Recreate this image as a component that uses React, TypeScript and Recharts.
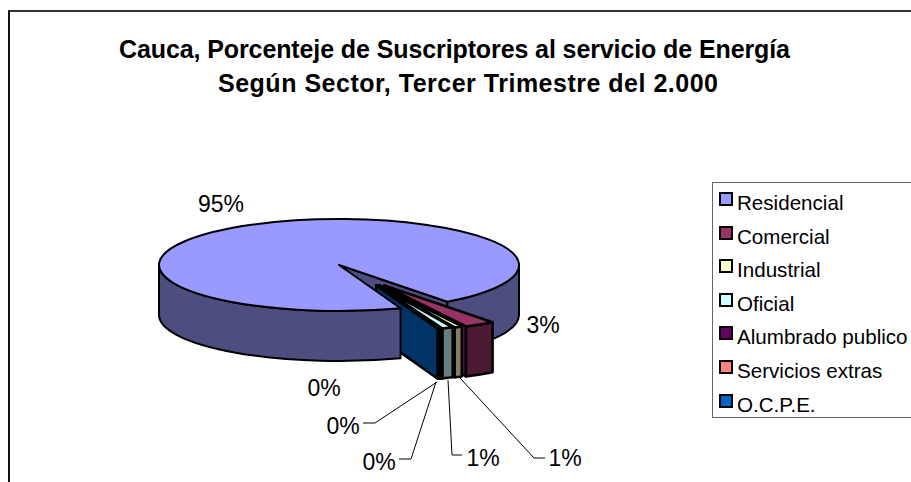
import { PieChart, Pie, Legend } from "recharts";

const sectors = ["Residencial", "Comercial", "Industrial", "Oficial", "Alumbrado publico", "Servicios extras", "O.C.P.E."];
const shares = [95.28, 2.78, 0.69, 0.97, 0.08, 0.06, 0.14];
const topColors = ["#9999ff", "#993366", "#ffffcc", "#ccffff", "#660066", "#ff8080", "#0066cc"];
const sideColors = ["#4d4d80", "#4d1a33", "#808066", "#668080", "#330033", "#804040", "#003366"];

// label anchor + leader polyline for each sector, in pixels
const labelLayout = [
  { x: 221, y: 212, line: null },
  { x: 543, y: 333, line: null },
  { x: 565, y: 466, line: "545,458 534,458 460,378" },
  { x: 483, y: 466, line: "462,455 452,455 448,380" },
  { x: 379, y: 470, line: "399,459 411,459 436,382" },
  { x: 343, y: 434, line: "363,423 375,423 437,382" },
  { x: 324, y: 396, line: null },
];

const data = sectors.map((name, i) => ({ name, value: shares[i], fill: topColors[i] }));

const CX = 339;
const CY = 265;
const SQUASH = 46 / 180;
const DEPTH = 50;
const EXPLODE_Y = 20.5;

const rad = (d: number) => (d * Math.PI) / 180;
const explodeX = (mid: number) => 22 + 44 * Math.cos(rad(mid));

function pt(cx: number, cy: number, r: number, t: number) {
  return [cx + r * Math.cos(rad(t)), cy + r * SQUASH * Math.sin(rad(t))];
}

function topPath(cx: number, cy: number, r: number, a: number, b: number) {
  const [x0, y0] = pt(cx, cy, r, a);
  const [x1, y1] = pt(cx, cy, r, b);
  return `M${cx},${cy}L${x0},${y0}A${r},${r * SQUASH} 0 ${b - a > 180 ? 1 : 0} 1 ${x1},${y1}Z`;
}

function sidePath(cx: number, cy: number, r: number, a: number, b: number) {
  const [x0, y0] = pt(cx, cy, r, a);
  const [x1, y1] = pt(cx, cy, r, b);
  const ry = r * SQUASH;
  return `M${x0},${y0}A${r},${ry} 0 0 1 ${x1},${y1}L${x1},${y1 + DEPTH}A${r},${ry} 0 0 0 ${x0},${y0 + DEPTH}Z`;
}

function wallPath(cx: number, cy: number, r: number, t: number) {
  const [x, y] = pt(cx, cy, r, t);
  return `M${cx},${cy}L${x},${y}L${x},${y + DEPTH}L${cx},${cy + DEPTH}Z`;
}

function Solid({ layer, ...p }: any) {
  const a = -p.startAngle;
  const b = -p.endAngle;
  const r = p.outerRadius;
  const side = sideColors[sectors.indexOf(p.name)];
  const line = { stroke: "#000", strokeWidth: 2, strokeLinejoin: "round" as const };
  const isMain = p.name === sectors[0];
  if (layer === "back") {
    if (!isMain) return <g />;
    return (
      <g>
        <path d={wallPath(p.cx, p.cy, r, b)} fill={side} {...line} />
        <path d={sidePath(p.cx, p.cy, r, 360, b)} fill={side} {...line} />
      </g>
    );
  }
  if (layer === "front") {
    if (!isMain) return <g />;
    return (
      <g>
        <path d={sidePath(p.cx, p.cy, r, a, 180)} fill={side} {...line} />
        <path d={topPath(p.cx, p.cy, r, a, b)} fill={p.fill} {...line} />
      </g>
    );
  }
  if (isMain) return <g />;
  const cx = p.cx + explodeX((a + b) / 2);
  const cy = p.cy + EXPLODE_Y;
  const heavy = { ...line, strokeWidth: 2.5 };
  return (
    <g>
      <path d={wallPath(cx, cy, r, b)} fill={side} {...heavy} />
      <path d={sidePath(cx, cy, r, a, b)} fill={side} {...heavy} />
      <path d={topPath(cx, cy, r, a, b)} fill={p.fill} {...heavy} />
    </g>
  );
}

function renderLabel(p: any) {
  const pos = labelLayout[p.index];
  return (
    <g key={p.index}>
      {pos.line && <polyline points={pos.line} fill="none" stroke="#000" strokeWidth={1} />}
      <text x={pos.x} y={pos.y} textAnchor="middle" fontFamily="Liberation Sans" fontSize={23} fill="#000" stroke="none">
        {Math.round(p.percent * 100)}%
      </text>
    </g>
  );
}

function LegendBox({ payload }: any) {
  const items = (payload ?? []).filter((e: any) => e.type !== "none");
  return (
    <div style={{ boxSizing: "border-box", width: 210, height: 236, border: "1px solid #666", background: "#fff", position: "relative", fontFamily: "Liberation Sans", fontSize: 20.6 }}>
      {items.map((e: any, i: number) => (
        <div key={e.value} style={{ position: "absolute", left: 6, top: 9 + i * 33.6, display: "flex", alignItems: "flex-start", whiteSpace: "nowrap", color: "#000" }}>
          <span style={{ boxSizing: "border-box", width: 14, height: 14, border: "2px solid #000", background: e.color, marginRight: 4 }} />
          <span style={{ lineHeight: "21px" }}>{e.value}</span>
        </div>
      ))}
    </div>
  );
}

const shared = {
  data,
  dataKey: "value",
  nameKey: "name",
  cx: CX,
  cy: CY,
  outerRadius: 180,
  startAngle: -70,
  endAngle: -430,
  stroke: "none",
  isAnimationActive: false,
};

const layerProps = (layer: string) => {
  const draw = (p: any) => <Solid {...p} layer={layer} />;
  return { shape: draw, inactiveShape: draw, activeShape: draw };
};

export default function App() {
  return (
    <div style={{ position: "fixed", left: 0, top: 0, width: 911, height: 482, overflow: "hidden", background: "#fff" }}>
      <div style={{ position: "absolute", left: 8, top: 10, width: 1000, height: 1000, borderLeft: "2px solid #111", borderTop: "2px solid #333" }} />
      <PieChart width={911} height={482} margin={{ top: 0, right: 0, bottom: 0, left: 0 }} style={{ position: "absolute", left: 0, top: 0 }}>
        <text x={119} y={58} fontFamily="Liberation Sans" fontWeight="bold" fontSize={25} textLength={671} lengthAdjust="spacing">
          Cauca, Porcenteje de Suscriptores al servicio de Energía
        </text>
        <text x={218} y={92} fontFamily="Liberation Sans" fontWeight="bold" fontSize={25} textLength={500} lengthAdjust="spacing">
          Según Sector, Tercer Trimestre del 2.000
        </text>
        <Pie {...shared} {...layerProps("back")} legendType="none" labelLine={false} label={false} />
        <Pie {...shared} {...layerProps("slices")} labelLine={false} label={false} />
        <Pie {...shared} {...layerProps("front")} legendType="none" labelLine={false} label={renderLabel} />
        <Legend
          layout="vertical"
          align="right"
          verticalAlign="top"
          itemSorter={null}
          wrapperStyle={{ left: 712, top: 182, right: "auto", bottom: "auto", width: 210 }}
          content={<LegendBox />}
        />
      </PieChart>
    </div>
  );
}
